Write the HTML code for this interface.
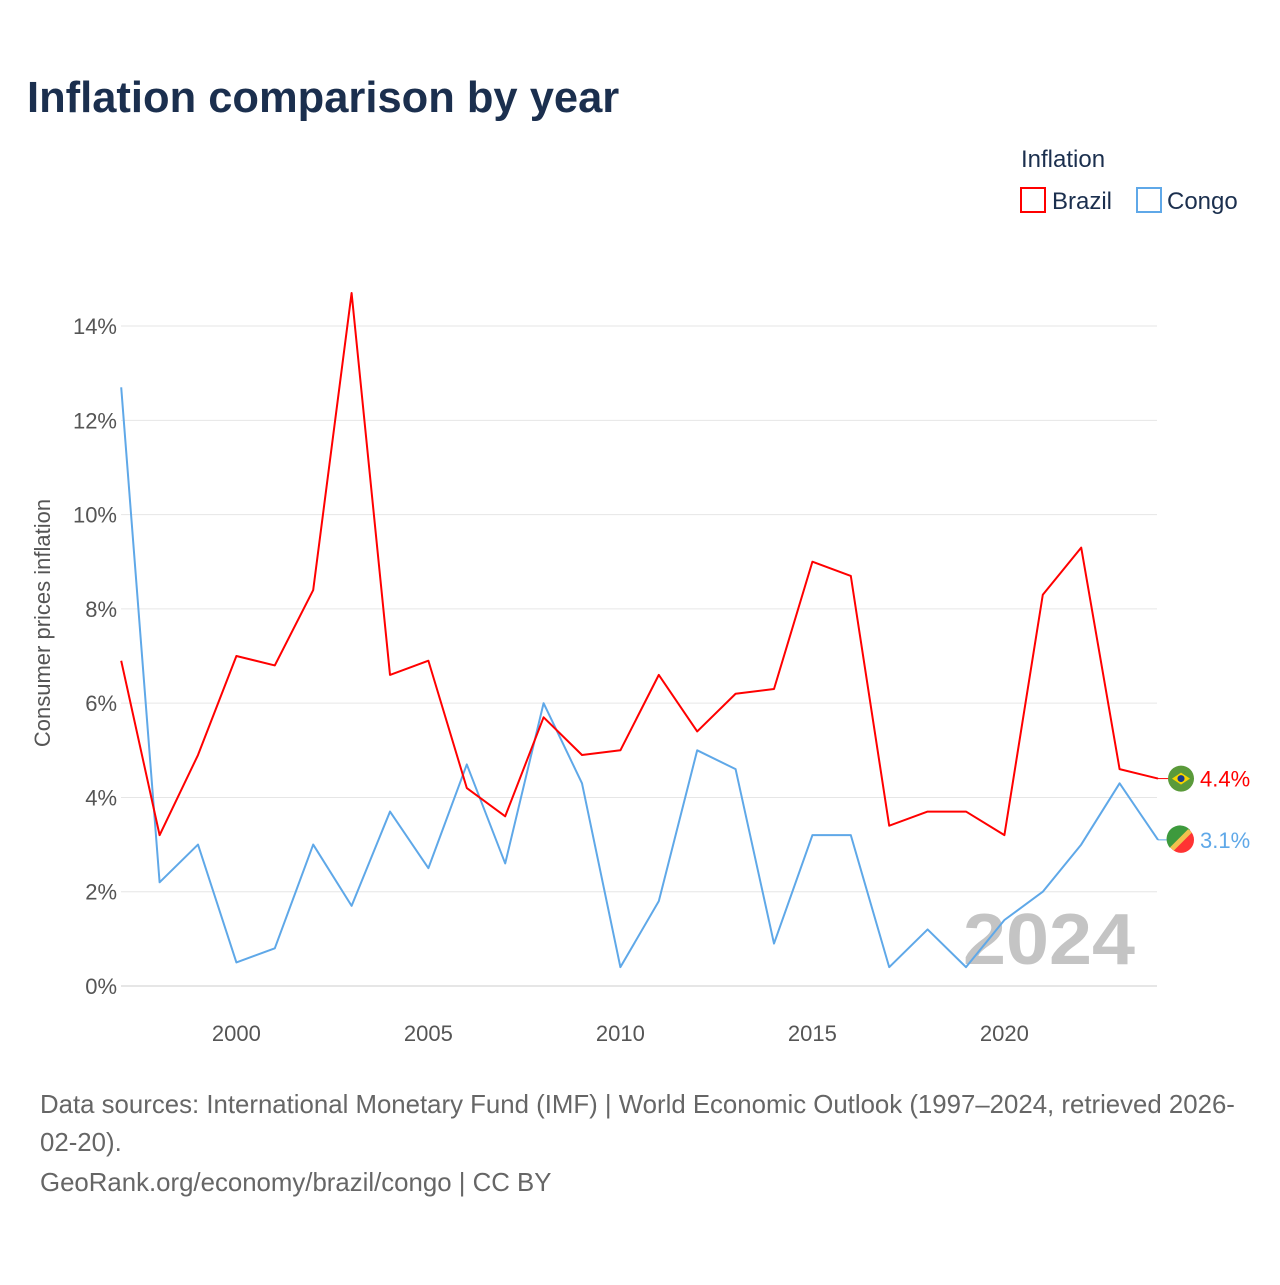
<!DOCTYPE html>
<html><head><meta charset="utf-8"><style>
body{margin:0;background:#fff;font-family:"Liberation Sans",sans-serif}
svg text{font-family:"Liberation Sans",sans-serif}
</style></head><body>
<svg id="chart" width="1280" height="1280" xmlns="http://www.w3.org/2000/svg">
<text x="27" y="112" font-size="43.5" font-weight="bold" fill="#1b2f4e">Inflation comparison by year</text>
<text x="1021" y="167" font-size="24" fill="#1b2f4e">Inflation</text>
<g><rect x="1021" y="188" width="24" height="24" fill="none" stroke="#f00" stroke-width="2"/><text x="1052" y="209" font-size="24" fill="#1b2f4e">Brazil</text></g>
<g><rect x="1137" y="188" width="24" height="24" fill="none" stroke="#5fa8e8" stroke-width="2"/><text x="1167" y="209" font-size="24" fill="#1b2f4e">Congo</text></g>
<text transform="translate(50,623) rotate(-90)" text-anchor="middle" font-size="22" fill="#555">Consumer prices inflation</text>
<g id="grid"></g><g id="yticks"></g><g id="xticks"></g>
<text x="963" y="964" textLength="172" lengthAdjust="spacingAndGlyphs" font-size="72" font-weight="bold" fill="#c4c4c4">2024</text>
<g id="series"></g>
<text x="40" y="1113" font-size="25.8" fill="#666">Data sources: International Monetary Fund (IMF) | World Economic Outlook (1997–2024, retrieved 2026-</text>
<text x="40" y="1151" font-size="25.8" fill="#666">02-20).</text>
<text x="40" y="1191" font-size="25.8" fill="#666">GeoRank.org/economy/brazil/congo | CC BY</text>
</svg>
<script>
const years=[1997,1998,1999,2000,2001,2002,2003,2004,2005,2006,2007,2008,2009,2010,2011,2012,2013,2014,2015,2016,2017,2018,2019,2020,2021,2022,2023,2024];
const brazil=[6.9,3.2,4.9,7.0,6.8,8.4,14.7,6.6,6.9,4.2,3.6,5.7,4.9,5.0,6.6,5.4,6.2,6.3,9.0,8.7,3.4,3.7,3.7,3.2,8.3,9.3,4.6,4.4];
const congo=[12.7,2.2,3.0,0.5,0.8,3.0,1.7,3.7,2.5,4.7,2.6,6.0,4.3,0.4,1.8,5.0,4.6,0.9,3.2,3.2,0.4,1.2,0.4,1.4,2.0,3.0,4.3,3.1];
const yTicks=[0,2,4,6,8,10,12,14];
const xTicks=[2000,2005,2010,2015,2020];
const NS="http://www.w3.org/2000/svg";
const x=v=>121.2+(v-1997)*38.4;
const y=v=>986-v*47.14;
function mk(t,a,p){const e=document.createElementNS(NS,t);for(const k in a)e.setAttribute(k,a[k]);p.appendChild(e);return e;}
const grid=document.getElementById('grid'),yt=document.getElementById('yticks'),xt=document.getElementById('xticks'),ser=document.getElementById('series');
yTicks.forEach(v=>{
 const l=mk('line',{x1:121,x2:1157,y1:y(v),y2:y(v),stroke:v===0?'#ccc':'#e6e6e6','stroke-width':1},grid);
 
 
 const t=mk('text',{x:117,y:y(v)+8,'text-anchor':'end','font-size':22,fill:'#555'},yt);t.textContent=v+'%';
 
 
});
xTicks.forEach(v=>{
 const t=mk('text',{x:x(v),y:1041,'text-anchor':'middle','font-size':22,fill:'#555'},xt);t.textContent=v;
 
 
});
function line(d,c,name,lab){
 const p=mk('polyline',{points:d.map((v,i)=>x(years[i])+','+y(v)).join(' '),fill:'none',stroke:c,'stroke-width':2,'stroke-linejoin':'round'},ser);
 
 
 const last=d[d.length-1],ly=y(last);
 mk('line',{x1:x(2024),x2:1170,y1:ly,y2:ly,stroke:c,'stroke-width':1},ser);
 const m=mk('circle',{cx:1181,cy:ly,r:13,fill:name==='brazil'?'#5a9a3a':'#f33'},ser);
 
 
 if(name==='brazil'){mk('path',{d:`M1172 ${ly} L1181 ${ly-6} L1190 ${ly} L1181 ${ly+6}Z`,fill:'#f5d400'},ser);mk('circle',{cx:1181,cy:ly,r:3.5,fill:'#1a3a8a'},ser);}
 else{mk('path',{d:`M1170 ${ly+8} A13 13 0 0 1 1190 ${ly-10} Z`,fill:'#3d9a3d'},ser);mk('line',{x1:1172,y1:ly+9,x2:1190,y2:ly-9,stroke:'#f2c14e','stroke-width':5},ser);}
 const t=mk('text',{x:1200,y:ly+8,'font-size':22,fill:c},ser);t.textContent=lab;
 
 
}
line(congo,'#5fa8e8','congo',congo[congo.length-1].toFixed(1)+'%');
line(brazil,'#f00','brazil',brazil[brazil.length-1].toFixed(1)+'%');
</script>
</body></html>
